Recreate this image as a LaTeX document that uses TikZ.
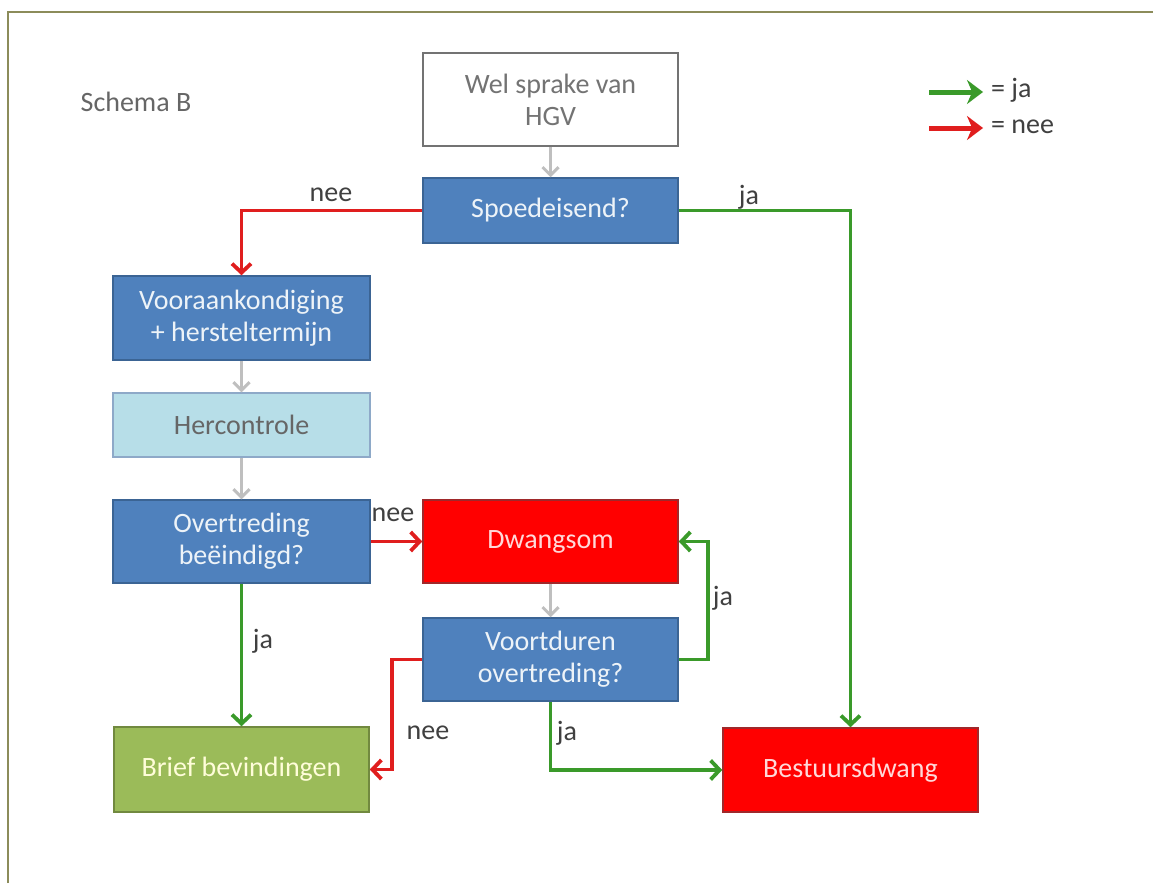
\documentclass[tikz,border=0pt]{standalone}
\usepackage{fontspec}
\setmainfont{Carlito}
\usetikzlibrary{arrows.meta}
\definecolor{bfill}{HTML}{4F81BD}
\definecolor{bline}{HTML}{3B6494}
\definecolor{rfill}{HTML}{FF0000}
\definecolor{rline}{HTML}{A0282A}
\definecolor{gfill}{HTML}{9BBB59}
\definecolor{gline}{HTML}{71893F}
\definecolor{lbfill}{HTML}{B7DEE8}
\definecolor{lbline}{HTML}{8EA9C8}
\definecolor{jacol}{HTML}{3A9A2A}
\definecolor{neecol}{HTML}{E01E1E}
\definecolor{framec}{HTML}{8C8C5A}
\definecolor{labc}{HTML}{404040}
\tikzset{
  x=1pt, y=-1pt,
  every node/.style={font=\fontsize{28}{32}\selectfont, align=center, inner sep=0pt},
  box/.style={rectangle, line width=1.5pt, minimum width=255pt, minimum height=83pt},
  bluebox/.style={box, fill=bfill, draw=bline, text=white!90!bfill},
  redbox/.style={box, fill=rfill, draw=rline, text=white!85!rfill},
  lab/.style={text=labc},
  ja/.style={draw=jacol, line width=3.8pt, -{Straight Barb[length=9pt,width=19pt]}},
  nee/.style={draw=neecol, line width=3.8pt, -{Straight Barb[length=9pt,width=19pt]}},
  grey/.style={draw=black!25, line width=3pt, -{Straight Barb[length=8pt,width=16pt]}},
  legja/.style={draw=jacol, line width=5pt, -{Stealth[length=16pt,width=24pt]}},
  legnee/.style={draw=neecol, line width=5pt, -{Stealth[length=16pt,width=24pt]}}
}
\begin{document}
\begin{tikzpicture}
\useasboundingbox (0,0) rectangle (1153,883);
\fill[white] (0,0) rectangle (1153,883);
\draw[framec, line width=1.6pt] (8,883) -- (8,12) -- (1153,12);

\node[lab, text=black!60] (title) at (136,102) {Schema B};

\node[box, fill=white, draw=black!55, text=black!55, minimum height=93pt] (wel) at (550.5,99.5) {Wel sprake van\\HGV};
\node[bluebox, minimum height=65pt] (spoed) at (550.5,210.5) {Spoedeisend?};
\node[bluebox, minimum width=257pt, minimum height=84pt] (voor) at (241.5,318) {Vooraankondiging\\+ hersteltermijn};
\node[box, fill=lbfill, draw=lbline, text=black!60, minimum width=257pt, minimum height=64pt] (herc) at (241.5,425) {Hercontrole};
\node[bluebox, minimum width=257pt] (over) at (241.5,541.5) {Overtreding\\beëindigd?};
\node[redbox] (dwang) at (550.5,541.5) {Dwangsom};
\node[bluebox] (voort) at (550.5,659.5) {Voortduren\\overtreding?};
\node[box, fill=gfill, draw=gline, text=white!85!yellow, minimum height=85pt] (brief) at (241.5,769.5) {Brief bevindingen};
\node[redbox, minimum height=84pt] (best) at (850.5,770) {Bestuursdwang};

\draw[grey] (wel) -- (spoed);
\draw[grey] (voor) -- (herc);
\draw[grey] (herc) -- (over);
\draw[grey] (dwang) -- (voort);

\draw[nee] (spoed.west) -| (voor.north);
\draw[ja] (spoed.east) -| (best.north);
\draw[nee] (over) -- (dwang);
\draw[ja] (over) -- (brief);
\draw[ja] (voort.east) -- ++(29,0) |- (dwang.east);
\draw[nee] (voort.west) -- ++(-30,0) |- (brief.east);
\draw[ja] (voort.south) |- (best.west);

\node[lab] (l1) at (331,195) {nee};
\node[lab] (l2) at (749,197) {ja};
\node[lab] (l3) at (393,515) {nee};
\node[lab] (l4) at (263,641) {ja};
\node[lab] (l5) at (723,598) {ja};
\node[lab] (l6) at (428,733) {nee};
\node[lab] (l7) at (567,733) {ja};

\coordinate (ga) at (929,92);
\coordinate (gb) at (983,92);
\coordinate (ra) at (929,128);
\coordinate (rb) at (983,128);
\draw[legja] (ga) -- (gb);
\draw[legnee] (ra) -- (rb);
\node[lab, anchor=west] (lj) at (991,90) {= ja};
\node[lab, anchor=west] (ln) at (991,127) {= nee};
\end{tikzpicture}
\end{document}
